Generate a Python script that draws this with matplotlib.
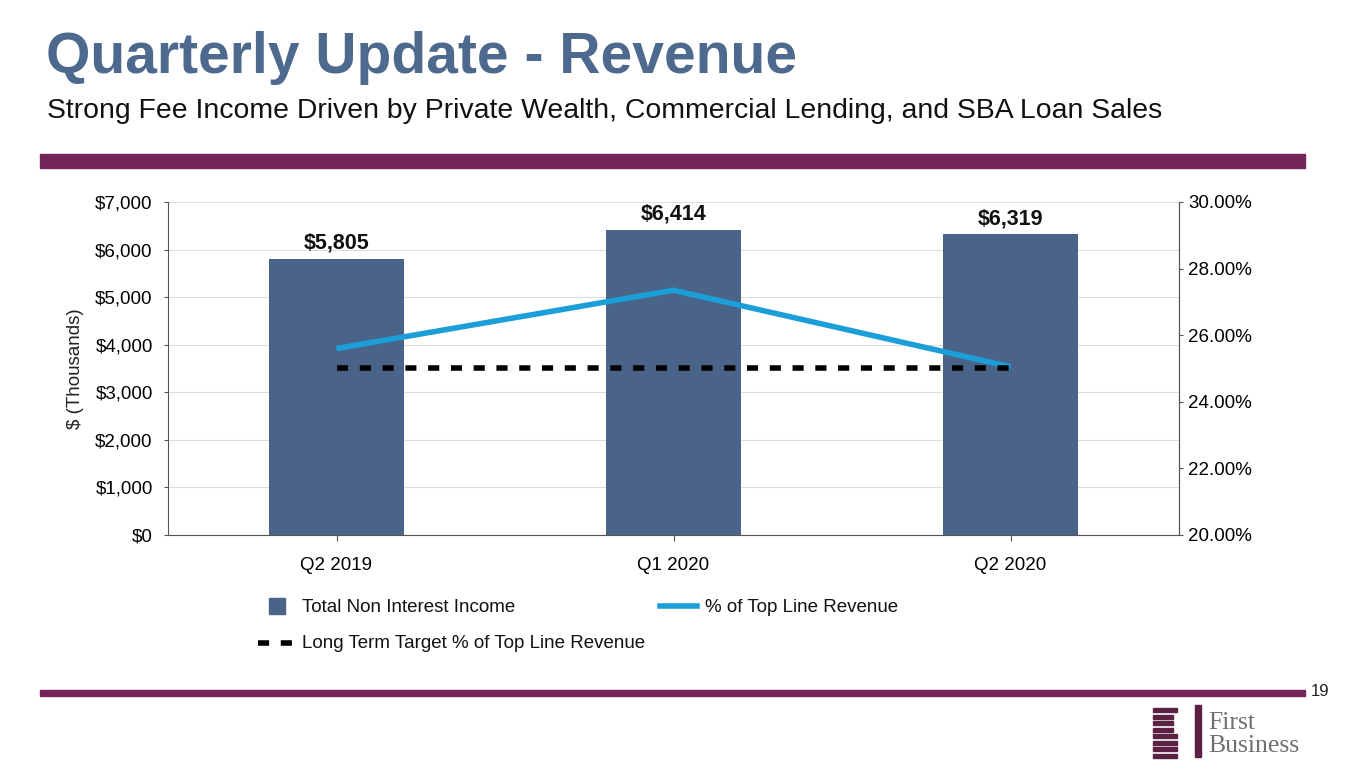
import matplotlib.pyplot as plt
from matplotlib.lines import Line2D
from matplotlib.patches import Rectangle

plt.rcParams['font.family'] = ['Liberation Sans', 'DejaVu Sans']

# data
quarters = ["Q2 2019", "Q1 2020", "Q2 2020"]
non_interest_income = [5805, 6414, 6319]
pct_top_line = [25.6, 27.35, 25.05]
target_pct = [25.0, 25.0, 25.0]
left_ticks = [0, 1000, 2000, 3000, 4000, 5000, 6000, 7000]
right_ticks = [20, 22, 24, 26, 28, 30]

bar_color = "#4a6489"
line_color = "#1c9fd9"
brand = "#722659"
dash = (0, (2, 2.1))

fig = plt.figure(figsize=(13.65, 7.68), dpi=100)
W, H = 1365, 768


def fx(px):
    return px / W


def fy(py):
    return 1 - py / H


# header
fig.text(fx(46), fy(58), "Quarterly Update - Revenue", fontsize=41, fontweight="bold",
         color="#4d6a8e", va="center", ha="left")
fig.text(fx(47), fy(111), "Strong Fee Income Driven by Private Wealth, Commercial Lending, and SBA Loan Sales",
         fontsize=20.4, color="#111111", va="center", ha="left")
fig.patches.append(Rectangle((fx(40), fy(168)), fx(1305 - 40), 14 / H, transform=fig.transFigure,
                             color=brand, zorder=0))
fig.patches.append(Rectangle((fx(40), fy(696)), fx(1305 - 40), 6 / H, transform=fig.transFigure,
                             color=brand, zorder=0))
fig.text(fx(1311), fy(692), "19", fontsize=12, ha="left", va="center", color="#222222")

# chart
ax = fig.add_axes([fx(168), fy(535), fx(1179 - 168), (535 - 202) / H])
x = list(range(len(quarters)))
ax.bar(x, non_interest_income, width=0.4, color=bar_color, zorder=2)
for xi, v in zip(x, non_interest_income):
    ax.text(xi, v + 110, "${:,}".format(v), ha="center", va="bottom",
            fontsize=15.5, fontweight="bold", color="#111111")
ax.set_xlim(-0.5, 2.5)
ax.set_ylim(0, 7000)
ax.set_yticks(left_ticks)
ax.set_yticklabels(["${:,}".format(t) for t in left_ticks])
ax.set_xticks(x)
ax.set_xticklabels(quarters)
ax.set_ylabel("$ (Thousands)", fontsize=13.5, color="#222222", labelpad=8)
ax.grid(axis="y", color="#dddddd", linewidth=0.8, zorder=0)
ax.set_axisbelow(True)
ax.tick_params(axis="y", length=3, color="#555555", labelsize=13.5, pad=8)
ax.tick_params(axis="x", length=4, color="#555555", labelsize=13.5, pad=12)
ax.spines["top"].set_visible(False)
for s in ["left", "bottom", "right"]:
    ax.spines[s].set_color("#555555")

ax2 = ax.twinx()
ax2.plot(x, pct_top_line, color=line_color, linewidth=4, solid_capstyle="butt", zorder=3)
ax2.plot(x, target_pct, color="black", linewidth=4, linestyle=dash, zorder=3)
ax2.set_ylim(20, 30)
ax2.set_yticks(right_ticks)
ax2.set_yticklabels(["{:.2f}%".format(t) for t in right_ticks])
ax2.tick_params(axis="y", length=3, color="#555555", labelsize=13.5, pad=3.5)
ax2.spines["top"].set_visible(False)
ax2.spines["right"].set_color("#555555")
ax2.spines["left"].set_visible(False)
ax2.spines["bottom"].set_visible(False)

# legend, laid out like the slide
fig.add_artist(Line2D([fx(277)], [fy(606)], marker="s", markersize=11, color=bar_color,
                      linestyle="none", transform=fig.transFigure))
fig.text(fx(302), fy(607), "Total Non Interest Income", fontsize=13.5, va="center", color="#111111")
fig.add_artist(Line2D([fx(660), fx(697)], [fy(606), fy(606)], color=line_color, linewidth=4,
                      transform=fig.transFigure))
fig.text(fx(705), fy(607), "% of Top Line Revenue", fontsize=13.5, va="center", color="#111111")
fig.add_artist(Line2D([fx(258), fx(292)], [fy(643), fy(643)], color="black", linewidth=4,
                      linestyle=dash, transform=fig.transFigure))
fig.text(fx(302), fy(644), "Long Term Target % of Top Line Revenue", fontsize=13.5, va="center",
         color="#111111")

# logo
lx = 1153
for i in range(8):
    fig.patches.append(Rectangle((fx(lx), fy(708 + i * 6.5 + 4)), fx(24 - (4 if i in (1, 2, 3) else 0)),
                                 4 / H, transform=fig.transFigure, color="#5a2143"))
fig.patches.append(Rectangle((fx(1195), fy(757)), fx(6), 52 / H, transform=fig.transFigure, color="#5a2143"))
fig.text(fx(1208), fy(723), "First", fontsize=18.5, family="Liberation Serif", color="#707070", va="center")
fig.text(fx(1208), fy(746), "Business", fontsize=18.5, family="Liberation Serif", color="#707070", va="center")

fig.savefig("out.png", dpi=100)
